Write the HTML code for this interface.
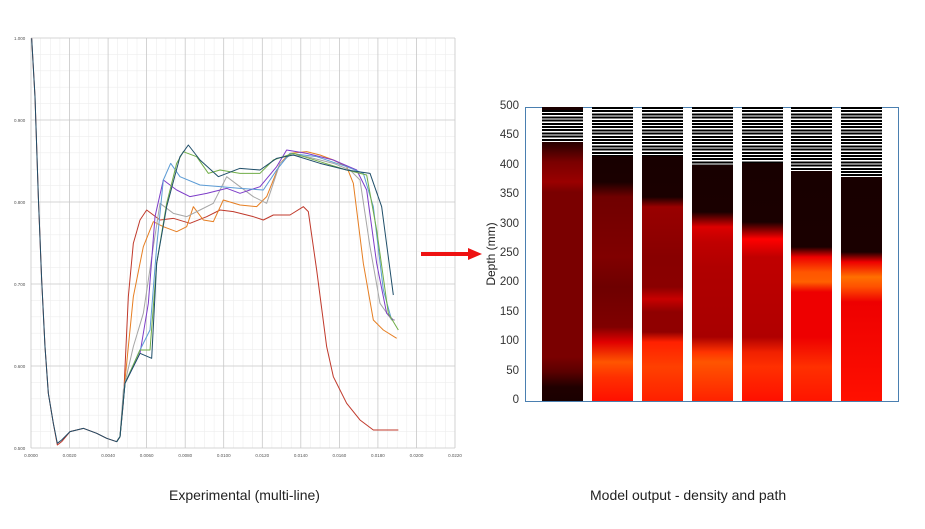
<!DOCTYPE html>
<html><head><style>
body{margin:0;width:925px;height:529px;background:#fff;overflow:hidden;position:relative;font-family:"Liberation Sans",sans-serif}
.bar{position:absolute;top:107px;height:294px;width:41px}
.lab{position:absolute;font-size:14px;color:#222}
.yt{position:absolute;right:406px;font-size:11.5px;color:#333;text-align:right;width:30px}
.st{position:absolute;left:0;top:0;width:100%;background:repeating-linear-gradient(#000 0 2px,#fff 2px 3.2px)}
</style></head><body>
<svg width="925" height="529" style="position:absolute;left:0;top:0">
<g stroke="#ededed" stroke-width="0.6">
<path d="M40.6 38V448M50.3 38V448M59.9 38V448M79.2 38V448M88.8 38V448M98.4 38V448M117.7 38V448M127.4 38V448M137 38V448M156.3 38V448M165.9 38V448M175.5 38V448M194.8 38V448M204.5 38V448M214.1 38V448M233.4 38V448M243 38V448M252.6 38V448M271.9 38V448M281.5 38V448M291.2 38V448M310.4 38V448M320.1 38V448M329.7 38V448M349 38V448M358.6 38V448M368.3 38V448M387.5 38V448M397.2 38V448M406.8 38V448M426.1 38V448M435.7 38V448M445.4 38V448"/>
<path d="M31 54.4H455M31 70.8H455M31 87.2H455M31 103.6H455M31 136.4H455M31 152.8H455M31 169.2H455M31 185.6H455M31 218.4H455M31 234.8H455M31 251.2H455M31 267.6H455M31 300.4H455M31 316.8H455M31 333.2H455M31 349.6H455M31 382.4H455M31 398.8H455M31 415.2H455M31 431.6H455"/>
</g>
<g stroke="#c8c8c8" stroke-width="0.8">
<path d="M31 38H455M31 120H455M31 202H455M31 284H455M31 366H455M31 448H455"/>
<path d="M31 38V448M69.5 38V448M108.1 38V448M146.6 38V448M185.2 38V448M223.7 38V448M262.3 38V448M300.8 38V448M339.4 38V448M377.9 38V448M416.5 38V448M455 38V448"/>
</g>
<g font-size="4.5" fill="#555" font-family="Liberation Sans">
<text x="14" y="40">1.000</text><text x="14" y="122">0.900</text><text x="14" y="204">0.800</text><text x="14" y="286">0.700</text><text x="14" y="368">0.600</text><text x="14" y="450">0.500</text>
<g text-anchor="middle"><text x="31" y="457">0.0000</text><text x="69.5" y="457">0.0020</text><text x="108.1" y="457">0.0040</text><text x="146.6" y="457">0.0060</text><text x="185.2" y="457">0.0080</text><text x="223.7" y="457">0.0100</text><text x="262.3" y="457">0.0120</text><text x="300.8" y="457">0.0140</text><text x="339.4" y="457">0.0160</text><text x="377.9" y="457">0.0180</text><text x="416.5" y="457">0.0200</text><text x="455" y="457">0.0220</text></g>
</g>
<g transform="translate(0,30) scale(0.33333)" fill="none" stroke-width="1" stroke-linejoin="round">
<polyline vector-effect="non-scaling-stroke" stroke="#c0392b" points="95,25 105,200 115,500 125,750 135,950 145,1090 160,1180 172,1245 185,1235 210,1205 250,1195 290,1210 320,1225 350,1235 360,1220 370,1120 385,800 400,640 420,570 440,540 460,555 480,570 520,565 570,580 620,560 660,540 700,545 760,560 790,570 820,555 870,555 910,530 925,545 950,720 980,950 1000,1040 1040,1120 1080,1170 1120,1200 1160,1200 1195,1200"/>
<polyline vector-effect="non-scaling-stroke" stroke="#e67e22" points="350,1235 360,1220 370,1100 400,800 430,650 460,575 490,590 530,605 560,590 580,530 610,570 640,575 670,510 720,525 770,530 800,500 840,400 870,370 920,365 960,375 1000,390 1040,410 1060,460 1090,700 1120,870 1150,900 1190,925"/>
<polyline vector-effect="non-scaling-stroke" stroke="#a6a6a6" points="350,1235 360,1220 370,1080 400,950 430,850 460,650 480,520 520,550 560,560 600,540 640,520 680,440 720,470 760,500 800,520 840,400 870,375 920,380 1000,400 1050,420 1080,450 1110,650 1140,820 1175,870 1185,870"/>
<polyline vector-effect="non-scaling-stroke" stroke="#7d3cc8" points="350,1235 360,1220 375,1060 420,970 445,820 465,560 490,450 530,480 570,500 620,490 680,475 720,490 780,470 830,410 860,360 920,370 1000,390 1070,420 1100,480 1130,700 1160,850 1180,870"/>
<polyline vector-effect="non-scaling-stroke" stroke="#5b9bd5" points="350,1235 360,1220 375,1060 420,960 450,900 470,650 490,450 512,400 540,440 600,465 660,470 720,475 790,480 830,420 870,370 950,380 1040,410 1090,430 1120,530 1150,780 1175,870"/>
<polyline vector-effect="non-scaling-stroke" stroke="#70ad47" points="350,1235 360,1220 375,1060 420,960 450,960 470,700 500,520 530,400 550,365 590,380 625,430 660,420 720,430 780,430 820,390 880,370 960,395 1040,420 1100,435 1130,600 1165,850 1195,900"/>
<polyline vector-effect="non-scaling-stroke" stroke="#1f4e69" points="95,25 105,200 115,500 125,750 135,950 145,1090 160,1180 172,1240 185,1230 210,1205 250,1195 290,1210 320,1225 350,1235 360,1220 375,1060 420,970 455,985 470,700 500,530 540,380 565,345 600,390 655,440 720,415 780,420 830,385 880,375 960,400 1040,420 1110,430 1145,530 1180,795"/>
</g>
<line x1="421" y1="254" x2="470" y2="254" stroke="#ee1111" stroke-width="4"/>
<polygon points="468,248 482,254 468,260" fill="#ee1111"/>
<rect x="525.5" y="107.5" width="373" height="294" fill="none" stroke="#4a7fb0" stroke-width="1"/>
<text transform="translate(495,254) rotate(-90)" text-anchor="middle" font-size="12" fill="#222">Depth (mm)</text>
</svg>
<div class="yt" style="top:100px">500</div><div class="yt" style="top:129px">450</div><div class="yt" style="top:159px">400</div><div class="yt" style="top:188px">350</div><div class="yt" style="top:218px">300</div><div class="yt" style="top:247px">250</div><div class="yt" style="top:276px">200</div><div class="yt" style="top:306px">150</div><div class="yt" style="top:335px">100</div><div class="yt" style="top:365px">50</div><div class="yt" style="top:394px">0</div>
<div class="bar" style="left:542px;background:linear-gradient(#1a0000 0 32px,#3a0000 40px,#7a0000 55px,#9a0000 75px,#7a0000 85px,#7a0000 250px,#5a0000 265px,#200000 280px,#1a0000 294px)"><div class="st" style="height:32px;top:3px"></div></div>
<div class="bar" style="left:592px;background:linear-gradient(#180000 0 49px,#1a0000 75px,#700000 90px,#800000 150px,#6e0000 180px,#800000 220px,#e00000 235px,#ff5500 255px,#ff3000 270px,#ff1000 294px)"><div class="st" style="height:49px"></div></div>
<div class="bar" style="left:642px;background:linear-gradient(#180000 0 49px,#1a0000 90px,#990000 100px,#880000 150px,#8a0000 180px,#c80000 192px,#900000 205px,#900000 225px,#ff2000 235px,#ff4000 260px,#ff2000 294px)"><div class="st" style="height:49px"></div></div>
<div class="bar" style="left:692px;background:linear-gradient(#180000 0 58px,#1a0000 105px,#dd0000 120px,#c00000 135px,#b00000 160px,#a80000 230px,#ff3300 245px,#ff5500 255px,#ff2200 294px)"><div class="st" style="height:58px"></div></div>
<div class="bar" style="left:742px;background:linear-gradient(#180000 0 56px,#1a0000 115px,#ff0000 132px,#c00000 150px,#b00000 230px,#f02000 245px,#ff3000 260px,#ff1000 294px)"><div class="st" style="height:56px"></div></div>
<div class="bar" style="left:791px;background:linear-gradient(#180000 0 64px,#1a0000 140px,#ee0000 150px,#ff5500 165px,#ff6000 175px,#ee0000 185px,#ee0000 230px,#ff3000 260px,#ff1500 294px)"><div class="st" style="height:64px"></div></div>
<div class="bar" style="left:841px;background:linear-gradient(#180000 0 70px,#1a0000 145px,#ee0000 155px,#ff7000 170px,#ff5000 180px,#ee0000 195px,#ff1000 294px)"><div class="st" style="height:70px"></div></div>
<div class="lab" style="left:169px;top:487px">Experimental (multi-line)</div>
<div class="lab" style="left:590px;top:487px">Model output - density and path</div>
</body></html>
